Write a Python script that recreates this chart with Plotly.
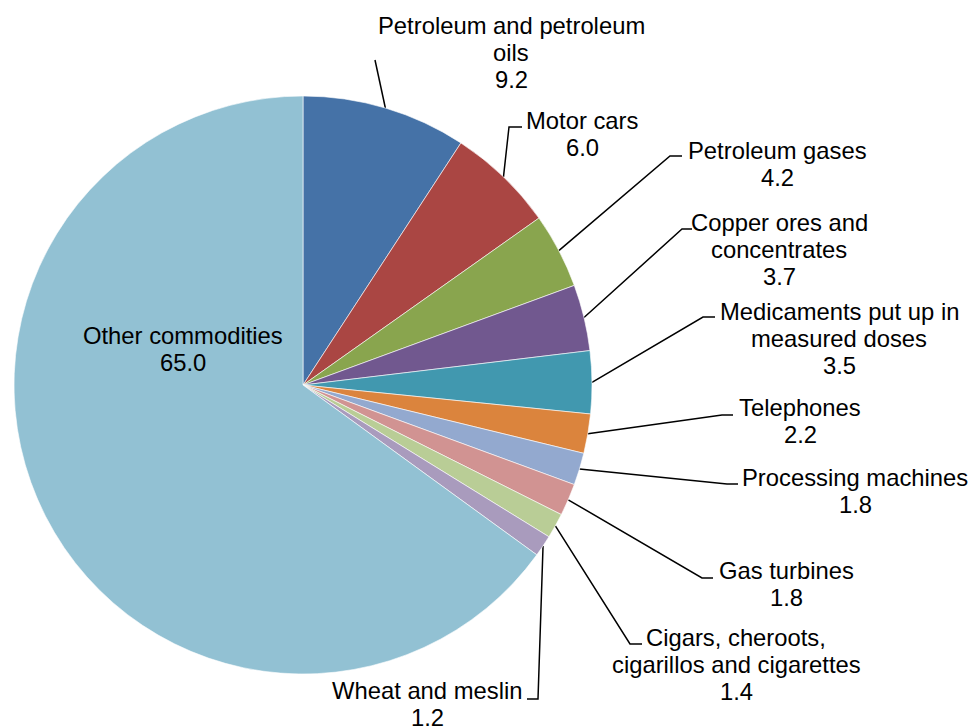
import math
import plotly.graph_objects as go

# ---- data ----
categories = [
    "Petroleum and petroleum\noils",
    "Motor cars",
    "Petroleum gases",
    "Copper ores and\nconcentrates",
    "Medicaments put up in\nmeasured doses",
    "Telephones",
    "Processing machines",
    "Gas turbines",
    "Cigars, cheroots,\ncigarillos and cigarettes",
    "Wheat and meslin",
    "Other commodities",
]
values = [9.2, 6.0, 4.2, 3.7, 3.5, 2.2, 1.8, 1.8, 1.4, 1.2, 65.0]

colors = ["#4572A7", "#AA4643", "#89A54E", "#71588F", "#4198AF", "#DB843D",
          "#93A9CF", "#D19392", "#B9CD96", "#A99BBD", "#92C1D3"]

# ---- layout (pixel geometry) ----
W, H = 973, 728
CX, CY, R = 303, 385, 289
# label anchor (center x, first line center y)
label_pos = [(511, 25), (582, 120), (777, 150), (779, 222), (839, 311),
             (800, 407), (855, 477), (786, 570), (736, 637), (427, 690), (183, 335)]
# leader line elbow and end points (None = label inside)
leader_elbow = [(375, 60), (509, 127), (670, 156), (682, 229), (703, 317),
                (722, 415), (727, 484), (702, 578), (630, 644), (538, 699), None]
leader_end = [(375, 60), (522, 127), (682, 156), (692, 229), (715, 317),
              (733, 415), (738, 484), (713, 578), (642, 644), (527, 699), None]
LINE_H = 27
FONT = dict(family="Liberation Sans, Arial, sans-serif", size=23.8, color="black")

fig = go.Figure()
fig.add_trace(go.Pie(
    labels=[c.replace("\n", " ") for c in categories],
    values=values,
    sort=False,
    direction="clockwise",
    rotation=0,
    marker=dict(colors=colors, line=dict(color="white", width=0.6)),
    textinfo="none",
    domain=dict(x=[(CX - R) / W, (CX + R) / W],
                y=[(H - CY - R) / H, (H - CY + R) / H]),
    showlegend=False,
    hoverinfo="label+value",
))

total = sum(values)
cum = 0.0
for i, (name, v) in enumerate(zip(categories, values)):
    mid = (cum + v / 2) / total * 2 * math.pi
    cum += v
    ex = CX + R * math.sin(mid)
    ey = CY - R * math.cos(mid)
    if leader_elbow[i] is not None:
        xs = [ex, leader_elbow[i][0], leader_end[i][0]]
        ys = [ey, leader_elbow[i][1], leader_end[i][1]]
        fig.add_trace(go.Scatter(x=xs, y=ys, mode="lines",
                                 line=dict(color="black", width=1.5),
                                 hoverinfo="skip", showlegend=False))
    lines = name.split("\n") + [f"{v:.1f}"]
    lx, ly = label_pos[i]
    for k, t in enumerate(lines):
        fig.add_annotation(x=lx, y=ly + k * LINE_H, xref="x", yref="y",
                           text=t, showarrow=False, font=FONT,
                           xanchor="center", yanchor="middle")

fig.update_layout(
    width=W, height=H,
    margin=dict(l=0, r=0, t=0, b=0),
    paper_bgcolor="white", plot_bgcolor="rgba(0,0,0,0)",
    xaxis=dict(range=[0, W], visible=False, fixedrange=True, domain=[0, 1]),
    yaxis=dict(range=[H, 0], visible=False, fixedrange=True, domain=[0, 1]),
    showlegend=False,
)

fig.write_html("out.html",
               config={"displayModeBar": False},
               post_script="document.body.style.margin='0';document.body.style.overflow='hidden';")
